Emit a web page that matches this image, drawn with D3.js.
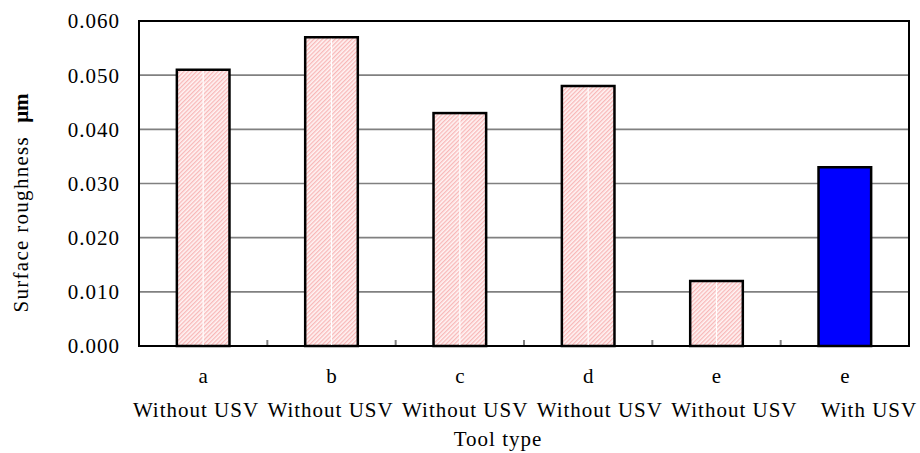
<!DOCTYPE html>
<html><head><meta charset="utf-8">
<script src="https://cdn.jsdelivr.net/npm/d3@7"></script>
<style>
html,body{margin:0;padding:0;background:#fff;}
svg text{font-family:"Liberation Serif","Times New Roman",serif;fill:#000;}
</style></head>
<body><svg id="c" width="920" height="453"></svg>
<script>
const categories = ["a","b","c","d","e","e"];
const conditions = ["Without USV","Without USV","Without USV","Without USV","Without USV","With USV"];
const values = [0.051, 0.057, 0.043, 0.048, 0.012, 0.033];
const withUSV = [false,false,false,false,false,true];
const yTicks = [0.000,0.010,0.020,0.030,0.040,0.050,0.060];
const yTitle = "Surface roughness";
const yUnit = "μm";
const xTitle = "Tool type";

const svg = d3.select("#c");
const L=139, R=909, T=21, B=346;
const x = d3.scaleBand().domain(d3.range(categories.length)).range([L,R]).padding(0);
const xCond = d3.scalePoint().domain(d3.range(conditions.length)).range([196,869]);
const y = d3.scaleLinear().domain([0,0.06]).range([B,T]);
const barW = x.bandwidth()*0.41;

const defs = svg.append("defs");
const pat = defs.append("pattern").attr("id","hatch").attr("patternUnits","userSpaceOnUse")
  .attr("width",3).attr("height",3).attr("patternTransform","rotate(45)");
pat.append("rect").attr("width",3).attr("height",3).attr("fill","#fff4f4");
pat.append("rect").attr("width",1.3).attr("height",3).attr("fill","#f8b8b8");

// gridlines
svg.append("g").selectAll("line").data(yTicks.slice(1)).join("line")
  .attr("x1",L).attr("x2",R).attr("y1",d=>y(d)).attr("y2",d=>y(d))
  .attr("stroke","#808080").attr("stroke-width",1.6);

// category boundary ticks
svg.append("g").selectAll("line").data(d3.range(1,categories.length)).join("line")
  .attr("x1",i=>x(i)).attr("x2",i=>x(i)).attr("y1",B).attr("y2",B-6)
  .attr("stroke","#808080").attr("stroke-width",2);

// bars
const bars = svg.append("g");
bars.selectAll("rect").data(values).join("rect")
  .attr("x",(d,i)=>x(i)+x.bandwidth()/2-barW/2)
  .attr("width",barW)
  .attr("y",d=>y(d)).attr("height",d=>B-y(d))
  .attr("fill",(d,i)=>withUSV[i]?"#0000ff":"url(#hatch)")
  .attr("stroke","#000").attr("stroke-width",2.5);
bars.selectAll("line").data(values.map((v,i)=>({v,i})).filter(d=>!withUSV[d.i])).join("line")
  .attr("x1",d=>x(d.i)+x.bandwidth()/2).attr("x2",d=>x(d.i)+x.bandwidth()/2)
  .attr("y1",d=>y(d.v)+1.5).attr("y2",B-1)
  .attr("stroke","#fff").attr("stroke-width",1.2);

// frame
svg.append("rect").attr("x",L).attr("y",T).attr("width",R-L).attr("height",B-T)
  .attr("fill","none").attr("stroke","#000").attr("stroke-width",2);

// y tick labels
svg.append("g").selectAll("text").data(yTicks).join("text")
  .attr("x",120).attr("y",d=>y(d)).attr("dy","0.35em")
  .attr("text-anchor","end").attr("font-size",21).attr("letter-spacing",1)
  .text(d=>d3.format(".3f")(d));

// x labels
svg.append("g").selectAll("text").data(categories).join("text")
  .attr("x",(d,i)=>x(i)+x.bandwidth()/2).attr("y",383)
  .attr("text-anchor","middle").attr("font-size",21).text(d=>d);
svg.append("g").selectAll("text").data(conditions).join("text")
  .attr("x",(d,i)=>xCond(i)).attr("y",417)
  .attr("text-anchor","middle").attr("font-size",21).attr("letter-spacing",1).text(d=>d);
svg.append("text").attr("x",498).attr("y",446).attr("text-anchor","middle")
  .attr("font-size",21).attr("letter-spacing",1).text(xTitle);

// y title
const yt = svg.append("text").attr("transform","translate(28,203) rotate(-90)")
  .attr("text-anchor","middle").attr("font-size",21).attr("letter-spacing",1.3);
yt.append("tspan").text(yTitle + "\u00a0\u00a0");
yt.append("tspan").attr("font-weight","bold").attr("letter-spacing",0).text(yUnit);
</script></body></html>
